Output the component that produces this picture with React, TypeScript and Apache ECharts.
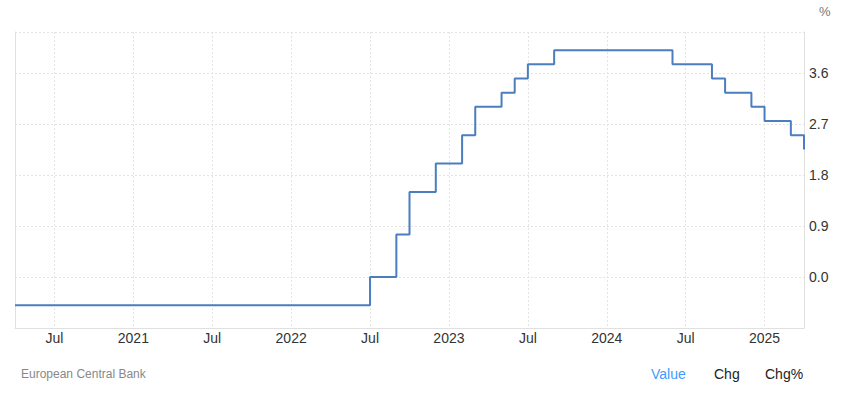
import React, { useEffect, useRef } from "react";
import * as echarts from "echarts";

// Monthly categories Apr 2020 .. Apr 2025
const months: string[] = [
  "2020-04", "2020-05", "2020-06", "2020-07", "2020-08", "2020-09", "2020-10", "2020-11", "2020-12",
  "2021-01", "2021-02", "2021-03", "2021-04", "2021-05", "2021-06", "2021-07", "2021-08", "2021-09", "2021-10", "2021-11", "2021-12",
  "2022-01", "2022-02", "2022-03", "2022-04", "2022-05", "2022-06", "2022-07", "2022-08", "2022-09", "2022-10", "2022-11", "2022-12",
  "2023-01", "2023-02", "2023-03", "2023-04", "2023-05", "2023-06", "2023-07", "2023-08", "2023-09", "2023-10", "2023-11", "2023-12",
  "2024-01", "2024-02", "2024-03", "2024-04", "2024-05", "2024-06", "2024-07", "2024-08", "2024-09", "2024-10", "2024-11", "2024-12",
  "2025-01", "2025-02", "2025-03", "2025-04",
];

const depositRate: number[] = [
  -0.5, -0.5, -0.5, -0.5, -0.5, -0.5, -0.5, -0.5, -0.5,
  -0.5, -0.5, -0.5, -0.5, -0.5, -0.5, -0.5, -0.5, -0.5, -0.5, -0.5, -0.5,
  -0.5, -0.5, -0.5, -0.5, -0.5, -0.5, 0, 0, 0.75, 1.5, 1.5, 2.0,
  2.0, 2.5, 3.0, 3.0, 3.25, 3.5, 3.75, 3.75, 4.0, 4.0, 4.0, 4.0,
  4.0, 4.0, 4.0, 4.0, 4.0, 3.75, 3.75, 3.75, 3.5, 3.25, 3.25, 3.0,
  2.75, 2.75, 2.5, 2.25,
];

const yTickLabels: string[] = ["0.0", "0.9", "1.8", "2.7", "3.6"];

const monthLabel = (m: string): string => {
  const [y, mm] = m.split("-");
  if (mm === "01") return y;
  if (mm === "07") return "Jul";
  return "";
};
const isMajor = (i: number): boolean => {
  const mm = months[i].split("-")[1];
  return mm === "01" || mm === "07";
};

export default function App() {
  const ref = useRef<HTMLDivElement>(null);
  useEffect(() => {
    if (!ref.current) return;
    const chart = echarts.init(ref.current, undefined, { renderer: "svg" });
    const font = "Arial, 'Liberation Sans', sans-serif";
    chart.setOption({
      animation: false,
      textStyle: { fontFamily: font },
      grid: { left: 15, right: 41, top: 32, bottom: 72, containLabel: false },
      xAxis: {
        type: "category",
        data: months,
        boundaryGap: false,
        axisLine: { show: true, onZero: false, lineStyle: { color: "#e0e0e0", width: 1 } },
        axisTick: { show: false },
        axisLabel: {
          interval: (i: number) => isMajor(i),
          formatter: (v: string) => monthLabel(v),
          color: "#333333",
          fontSize: 14,
          fontFamily: font,
          margin: 3,
        },
        splitLine: {
          show: true,
          interval: (i: number) => isMajor(i),
          lineStyle: { color: "#e3e3e3", type: [2, 2], width: 1 },
        },
      },
      yAxis: [
        {
          type: "value",
          position: "right",
          min: -0.9,
          max: 4.32,
          interval: 0.9,
          axisLine: { show: true, onZero: false, lineStyle: { color: "#e0e0e0", width: 1 } },
          axisTick: { show: false },
          axisLabel: {
            showMinLabel: false,
            showMaxLabel: false,
            color: "#333333",
            fontSize: 14,
            fontFamily: font,
            margin: 5,
            padding: [0, 0, 8, 0],
            formatter: (v: number) => {
              const s = v.toFixed(1);
              return yTickLabels.includes(s) ? s : "";
            },
          },
          splitLine: {
            show: true,
            lineStyle: { color: "#e3e3e3", type: [2, 2], width: 1 },
          },
        },
        {
          type: "value",
          position: "left",
          min: -0.9,
          max: 4.32,
          axisLine: { show: true, onZero: false, lineStyle: { color: "#e0e0e0", width: 1 } },
          axisTick: { show: false },
          axisLabel: { show: false },
          splitLine: { show: false },
        },
      ],
      series: [
        {
          type: "line",
          data: depositRate,
          yAxisIndex: 0,
          step: "end",
          showSymbol: false,
          symbol: "none",
          lineStyle: { color: "#4a7ebf", width: 2 },
        },
      ],
      graphic: [
        {
          type: "text",
          left: 819,
          top: 5,
          style: { text: "%", fill: "#777777", fontSize: 13, fontFamily: font },
        },
        {
          type: "text",
          left: 21,
          top: 368,
          style: { text: "European Central Bank", fill: "#888888", fontSize: 12, fontFamily: font },
        },
        {
          type: "text",
          left: 651,
          top: 367,
          style: { text: "Value", fill: "#3d9bff", fontSize: 14, fontFamily: font },
        },
        {
          type: "text",
          left: 714,
          top: 367,
          style: { text: "Chg", fill: "#222222", fontSize: 14, fontFamily: font },
        },
        {
          type: "text",
          left: 765,
          top: 367,
          style: { text: "Chg%", fill: "#222222", fontSize: 14, fontFamily: font },
        },
      ],
    });
    return () => chart.dispose();
  }, []);
  return (
    <div
      ref={ref}
      style={{ position: "absolute", left: 0, top: 0, width: 845, height: 400 }}
    />
  );
}
